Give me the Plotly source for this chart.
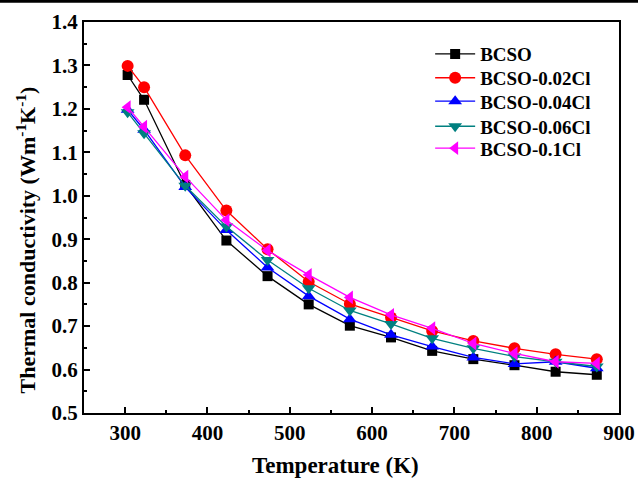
import plotly.graph_objects as go

temperature = [303, 323, 373, 423, 473, 523, 573, 623, 673, 723, 773, 823, 873]
bcso = [1.278, 1.221, 1.025, 0.897, 0.815, 0.750, 0.701, 0.674, 0.643, 0.624, 0.610, 0.595, 0.588]
bcso_002 = [1.299, 1.250, 1.093, 0.966, 0.877, 0.802, 0.751, 0.720, 0.689, 0.666, 0.649, 0.635, 0.624]
bcso_004 = [1.198, 1.152, 1.020, 0.921, 0.835, 0.769, 0.716, 0.680, 0.653, 0.628, 0.613, 0.618, 0.603]
bcso_006 = [1.192, 1.144, 1.023, 0.929, 0.852, 0.787, 0.736, 0.705, 0.672, 0.649, 0.630, 0.618, 0.607]
bcso_01 = [1.204, 1.159, 1.044, 0.944, 0.874, 0.818, 0.766, 0.726, 0.695, 0.660, 0.637, 0.618, 0.614]

series = [
    ("BCSO", bcso, "#000000", "square", 10),
    ("BCSO-0.02Cl", bcso_002, "#ff0000", "circle", 12),
    ("BCSO-0.04Cl", bcso_004, "#0000ff", "triangle-up", 12),
    ("BCSO-0.06Cl", bcso_006, "#008080", "triangle-down", 12),
    ("BCSO-0.1Cl", bcso_01, "#ff00ff", "triangle-left", 12),
]

font = "Liberation Serif"
legend_rows = [0.918, 0.857, 0.797, 0.733, 0.677]
legend_names = ["legend", "legend2", "legend3", "legend4", "legend5"]

fig = go.Figure()
for (name, ys, color, sym, size), lg in zip(series, legend_names):
    fig.add_trace(go.Scatter(
        x=temperature, y=ys, name=name, mode="lines+markers",
        line=dict(color=color, width=1.3),
        marker=dict(symbol=sym, size=size, color=color),
        legend=lg,
    ))

legend_layout = {}
for lg, yrow in zip(legend_names, legend_rows):
    legend_layout[lg] = dict(
        x=0.647, y=yrow, xanchor="left", yanchor="middle",
        bgcolor="rgba(0,0,0,0)", borderwidth=0,
        font=dict(family=font, size=19, color="black", weight="bold"),
        itemwidth=40,
    )

fig.update_layout(
    width=638, height=478,
    margin=dict(l=84, r=19, t=22, b=65, autoexpand=False),
    paper_bgcolor="white", plot_bgcolor="white",
    font=dict(family=font, color="black", size=20),
    showlegend=True,
    xaxis=dict(
        range=[250, 900], tickmode="array", tickvals=[300, 400, 500, 600, 700, 800, 900],
        ticks="inside", ticklen=6, tickwidth=2, tickcolor="black",
        minor=dict(tickvals=[350, 450, 550, 650, 750, 850], ticks="inside", ticklen=3, tickwidth=2, tickcolor="black"),
        showline=True, linewidth=2, linecolor="black", mirror=True,
        showgrid=False, zeroline=False, automargin=False,
        tickfont=dict(family=font, size=21, weight="bold"),
    ),
    yaxis=dict(
        range=[0.5, 1.4], tickmode="array",
        tickvals=[0.5, 0.6, 0.7, 0.8, 0.9, 1.0, 1.1, 1.2, 1.3, 1.4],
        tickformat=".1f",
        ticks="inside", ticklen=6, tickwidth=2, tickcolor="black",
        minor=dict(tickvals=[0.55, 0.65, 0.75, 0.85, 0.95, 1.05, 1.15, 1.25, 1.35], ticks="inside", ticklen=3, tickwidth=2, tickcolor="black"),
        showline=True, linewidth=2, linecolor="black", mirror=True,
        showgrid=False, zeroline=False, automargin=False,
        tickfont=dict(family=font, size=21, weight="bold"),
    ),
    annotations=[
        dict(text="Temperature (K)", xref="paper", yref="paper", x=0.471, y=-0.1355,
             xanchor="center", yanchor="middle", showarrow=False,
             font=dict(family=font, size=23, weight="bold", color="black")),
        dict(text="Thermal conductivity (Wm<sup>-1</sup>K<sup>-1</sup>)", xref="paper", yref="paper",
             x=-0.108, y=0.442, xanchor="center", yanchor="middle", textangle=-90, showarrow=False,
             font=dict(family=font, size=22, weight="bold", color="black")),
    ],
    shapes=[dict(type="rect", xref="paper", yref="paper",
                 x0=-0.16, x1=1.04, y0=1.049, y1=1.06,
                 fillcolor="black", line=dict(width=0), layer="above")],
    **legend_layout,
)

fig.write_html("out.html")
